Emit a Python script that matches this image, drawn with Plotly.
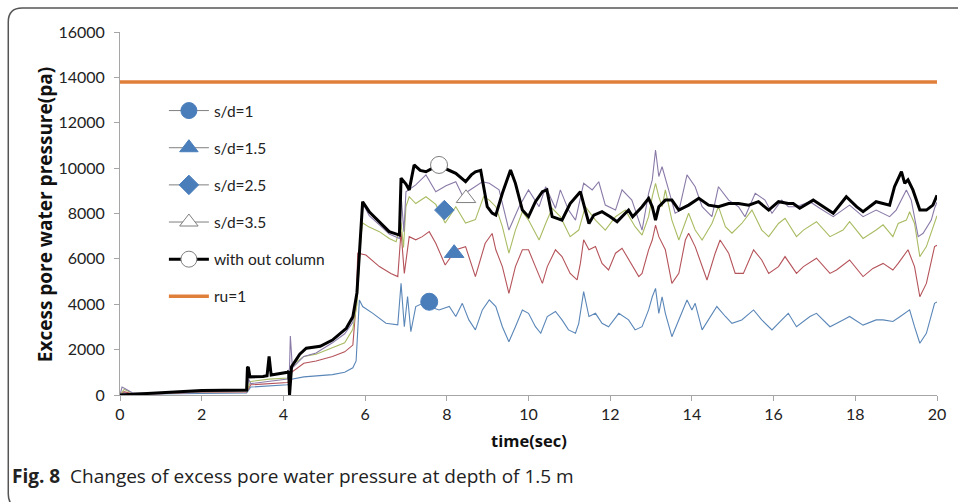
import plotly.graph_objects as go

# ---------------- data ----------------
series_names = ["s/d=1", "s/d=1.5", "s/d=2.5", "s/d=3.5", "with out column"]

t_sd1 = [0, 0.1, 0.3, 1, 2, 3.1, 3.2, 3.65, 4.1, 4.15, 4.2, 4.5, 4.8, 5.2, 5.5, 5.7, 5.78, 5.86, 5.94,
         6.19, 6.51, 6.8, 6.88, 6.96, 7.04, 7.12, 7.24, 7.41, 7.57, 7.81, 8.06, 8.22, 8.38, 8.54, 8.7,
         8.87, 9.04, 9.2, 9.36, 9.52, 9.68, 9.85, 10.0, 10.17, 10.3, 10.46, 10.66, 10.82, 10.98, 11.15,
         11.23, 11.35, 11.48, 11.64, 11.8, 11.96, 12.21, 12.45, 12.61, 12.78, 12.94, 13.03, 13.11, 13.19,
         13.27, 13.35, 13.51, 13.68, 13.88, 14.0, 14.08, 14.25, 14.41, 14.61, 14.82, 14.98, 15.22, 15.51,
         15.71, 15.96, 16.2, 16.36, 16.56, 16.89, 17.05, 17.38, 17.7, 17.86, 18.19, 18.51, 18.68, 18.92,
         19.1, 19.33, 19.45, 19.58, 19.74, 19.94, 20]
p_sd1 = [0, 100, 30, 40, 80, 90, 350, 400, 450, 500, 700, 800, 850, 900, 1000, 1200, 1500, 4190, 3900,
         3600, 3160, 3090, 4920, 3010, 4340, 2790, 3900, 4040, 3900, 3750, 3900, 3460, 4040, 3310, 2870,
         3750, 4190, 3900, 3010, 2350, 3010, 3750, 3600, 3010, 2720, 3460, 3680, 3310, 2870, 2720,
         3160, 4560, 3460, 3600, 3160, 3010, 3600, 3310, 2870, 3010, 3750, 4330, 4700, 3600,
         4330, 3600, 2570, 3310, 4190, 3750, 4040, 2870, 3310, 3900, 3460, 3160, 3310, 3750,
         3310, 2870, 3310, 3600, 3010, 3460, 3600, 3010, 3310, 3460, 3080, 3310, 3310, 3240,
         3460, 3750, 3010, 2280, 2720, 4040, 4100]

t_sd15 = [0, 0.1, 0.3, 1, 2, 3.1, 3.2, 3.65, 4.1, 4.15, 4.2, 4.5, 4.8, 5.2, 5.5, 5.7, 5.78, 5.82, 6.02,
          6.35, 6.63, 6.8, 6.88, 6.96, 7.08, 7.24, 7.4, 7.57, 7.73, 7.96, 8.22, 8.46, 8.7, 8.94, 9.11, 9.2,
          9.36, 9.52, 9.68, 9.85, 10.0, 10.17, 10.34, 10.46, 10.66, 10.82, 11.02, 11.19, 11.27, 11.35,
          11.48, 11.64, 11.8, 11.96, 12.13, 12.29, 12.5, 12.7, 12.78, 12.94, 13.03, 13.11, 13.19, 13.35,
          13.51, 13.68, 13.84, 13.92, 14.08, 14.25, 14.37, 14.57, 14.69, 14.9, 15.06, 15.26, 15.51, 15.71,
          15.88, 16.12, 16.28, 16.56, 16.73, 17.05, 17.38, 17.54, 17.86, 18.19, 18.43, 18.68, 18.92, 19.05,
          19.29, 19.45, 19.58, 19.74, 19.94, 20]
p_sd15 = [0, 150, 50, 60, 120, 130, 450, 500, 550, 600, 1000, 1400, 1500, 1700, 1900, 2200, 4000, 6250, 6170,
          5660, 5360, 5220, 7200, 5360, 6980, 6840, 6980, 7200, 6690, 5730, 6400, 6540, 5220, 6690, 7120, 6400,
          5660, 4480, 5660, 6400, 6400, 5660, 4920, 5660, 6400, 6100, 5360, 5070, 5800, 6840,
          6400, 6540, 5800, 5510, 6250, 6470, 5800, 5220, 5360, 6400, 6830, 7490, 6980, 6400,
          4920, 5360, 6830, 7130, 6540, 5660, 5070, 6250, 6830, 6250, 5360, 5360, 6400, 5950,
          5360, 5660, 6100, 5360, 5660, 6030, 5360, 5510, 5950, 5220, 5580, 5800, 5510, 5800,
          6400, 5660, 4330, 4920, 6540, 6600]

t_sd25 = [0, 0.1, 0.3, 1, 2, 3.1, 3.2, 3.65, 4.1, 4.15, 4.2, 4.5, 4.8, 5.2, 5.5, 5.7, 5.8, 5.9, 5.94,
          6.1, 6.35, 6.59, 6.76, 6.88, 6.94, 7.0, 7.08, 7.24, 7.49, 7.73, 7.96, 8.22, 8.46, 8.7, 8.9, 9.04,
          9.2, 9.36, 9.52, 9.68, 9.85, 10.0, 10.26, 10.42, 10.58, 10.78, 11.02, 11.23, 11.39, 11.64, 11.88,
          12.13, 12.37, 12.61, 12.78, 12.94, 13.03, 13.11, 13.19, 13.27, 13.35, 13.51, 13.68, 13.92, 14.08,
          14.25, 14.49, 14.65, 14.82, 14.98, 15.22, 15.47, 15.71, 15.88, 16.12, 16.28, 16.56, 16.73, 17.05,
          17.38, 17.7, 17.86, 18.19, 18.51, 18.68, 18.92, 19.05, 19.25, 19.33, 19.45, 19.58, 19.74, 19.94, 20]
p_sd25 = [0, 250, 80, 80, 150, 160, 600, 700, 750, 800, 1300, 1700, 1800, 2100, 2300, 2900, 4000, 7000, 7580,
          7400, 7200, 6900, 6760, 7600, 6500, 8300, 8740, 8440, 8740, 8400, 7580, 8300, 7580, 7730, 8740, 8590,
          8300, 7420, 6250, 7270, 8080, 7710, 6830, 7560, 8230, 7860, 6980, 7270, 8300, 7710, 7270,
          7860, 8150, 7420, 7050, 7860, 8740, 9330, 8740, 8300, 9040, 7710, 6830, 8010, 7270,
          6830, 7560, 8300, 7420, 7130, 7560, 8150, 7270, 6980, 7560, 7790, 6980, 7270, 7640,
          6980, 7270, 7640, 6900, 7270, 7500, 6980, 7560, 7710, 8080, 7560, 6100, 6540, 7560, 7900]

t_sd35 = [0, 0.05, 0.15, 0.3, 1, 2, 3.1, 3.15, 3.2, 3.65, 4.1, 4.15, 4.17, 4.22, 4.5, 4.8, 5.2, 5.5, 5.7,
          5.8, 5.9, 5.96, 6.1, 6.35, 6.59, 6.84, 6.88, 6.95, 7.0, 7.24, 7.49, 7.73, 7.98, 8.22, 8.38, 8.54,
          8.87, 9.04, 9.28, 9.52, 9.77, 10.0, 10.26, 10.42, 10.66, 10.78, 10.98, 11.15, 11.35, 11.56, 11.72,
          11.88, 12.13, 12.29, 12.53, 12.78, 12.94, 13.03, 13.11, 13.19, 13.27, 13.43, 13.59, 13.68, 13.88,
          14.08, 14.25, 14.49, 14.65, 14.9, 15.14, 15.3, 15.55, 15.79, 15.96, 16.2, 16.36, 16.56, 16.89,
          17.13, 17.46, 17.86, 18.19, 18.51, 18.84, 19.0, 19.25, 19.37, 19.54, 19.66, 19.86, 19.94, 20]
p_sd35 = [0, 350, 250, 100, 80, 150, 180, 700, 500, 600, 700, 1200, 2600, 1200, 1700, 1850, 2300, 2700, 3200,
          4500, 7500, 8400, 7900, 7500, 7100, 6900, 8800, 7200, 8960, 9260, 9700, 8960, 9220, 9400, 8810, 9000,
          9400, 9330, 9040, 7270, 8300, 9040, 8300, 9180, 8230, 9040, 8150, 7710, 9330, 9040, 9400,
          8370, 8150, 9040, 8590, 7270, 8890, 9480, 10800, 9630, 10060, 9040, 8010, 8100, 9700,
          9180, 8300, 7860, 9180, 8590, 8300, 7860, 8890, 8590, 8010, 8590, 8300, 8300, 8520,
          8230, 7860, 8370, 7860, 8150, 7860, 8150, 9040, 8590, 6980, 7130, 7710, 8230, 8500]

t_noc = [0, 0.3, 1, 2, 3.1, 3.12, 3.14, 3.18, 3.5, 3.6, 3.65, 3.7, 4.1, 4.13, 4.15, 4.18, 4.2, 4.4, 4.56,
         4.9, 5.2, 5.54, 5.7, 5.8, 5.86, 5.94, 6.1, 6.35, 6.59, 6.84, 6.88, 7.0, 7.08, 7.2, 7.35, 7.49,
         7.65, 7.81, 8.0, 8.22, 8.46, 8.6, 8.7, 8.83, 8.99, 9.11, 9.2, 9.36, 9.56, 9.68, 9.85, 10.0, 10.17,
         10.34, 10.45, 10.58, 10.82, 11.02, 11.19, 11.27, 11.39, 11.48, 11.6, 11.8, 12.0, 12.17, 12.37,
         12.45, 12.55, 12.78, 12.94, 13.03, 13.11, 13.19, 13.35, 13.51, 13.68, 13.92, 14.17, 14.41, 14.65,
         14.9, 15.14, 15.39, 15.63, 15.88, 16.12, 16.36, 16.48, 16.64, 16.97, 17.22, 17.46, 17.78, 18.03,
         18.19, 18.51, 18.84, 18.96, 19.13, 19.21, 19.29, 19.41, 19.58, 19.74, 19.9, 19.98, 20]
p_noc = [0, 30, 100, 200, 220, 1200, 1230, 800, 820, 850, 1700, 880, 1000, 1050, 0, 1100, 1250, 1800, 2060,
         2150, 2420, 2940, 3450, 4500, 6400, 8520, 8080, 7640, 7200, 7050, 9560, 9300, 9040, 10140, 9900, 9840,
         10000, 10040, 9950, 9770, 9400, 9700, 9840, 9900, 8300, 8020, 7930, 8890, 9920, 9330, 8150, 7860, 8520,
         8960, 9040, 7860, 7710, 8440, 8810, 8960, 8150, 7560, 7930, 8080, 7860, 7640, 8010,
         8150, 7860, 8300, 8670, 8300, 7710, 8300, 8590, 8590, 8150, 8370, 8670, 8370, 8300,
         8440, 8440, 8370, 8520, 8150, 8520, 8440, 8440, 8230, 8590, 8300, 8010, 8740, 8300,
         8080, 8520, 8370, 9180, 9850, 9330, 9480, 9040, 8150, 8150, 8370, 8740, 8800]

# one marker per series (Excel-style data marker)
marker_t = [7.57, 8.18, 7.94, 8.47, 7.81]
marker_p = [4110, 6250, 8150, 8670, 10140]

ru_t = [0, 20]
ru_p = [13800, 13800]

x_ticks = list(range(0, 21, 2))
y_ticks = list(range(0, 16001, 2000))

# ---------------- styles ----------------
line_colors = ["#5a86b8", "#b5535a", "#a9bc63", "#8a7aa8", "#000000"]
line_widths = [1.1, 1.1, 1.1, 1.1, 3]
marker_symbols = ["circle", "triangle-up", "diamond", "triangle-up", "circle"]
marker_fill = ["#4a7ebb", "#4a7ebb", "#4a7ebb", "#ffffff", "#ffffff"]
marker_edge = ["#4a7ebb", "#4a7ebb", "#4a7ebb", "#7f7f7f", "#7f7f7f"]
marker_sizes = [17, 17, 15, 17, 17]

FONT = "Lato, 'Open Sans', sans-serif"
TFONT = "'Open Sans', Lato, sans-serif"

fig = go.Figure()

all_t = [t_sd1, t_sd15, t_sd25, t_sd35, t_noc]
all_p = [p_sd1, p_sd15, p_sd25, p_sd35, p_noc]

for i in range(5):
    fig.add_trace(go.Scatter(
        x=all_t[i], y=all_p[i], mode="lines",
        line=dict(color=line_colors[i], width=line_widths[i]),
        showlegend=False, legendgroup=series_names[i], hoverinfo="skip"))

fig.add_trace(go.Scatter(
    x=ru_t, y=ru_p, mode="lines", name="ru=1",
    line=dict(color="#e07f3a", width=3.5), legendgroup="ru", legendrank=6))

for i in range(5):
    fig.add_trace(go.Scatter(
        x=[marker_t[i]], y=[marker_p[i]], mode="lines+markers", name=series_names[i],
        line=dict(color=("#7f7f7f" if i < 4 else "#000000"), width=(1 if i < 4 else 3)),
        marker=dict(symbol=marker_symbols[i], size=marker_sizes[i], color=marker_fill[i],
                    line=dict(color=marker_edge[i], width=1)),
        legendgroup=series_names[i], legendrank=i + 1))

# plot area in pixels: x 120..939, y 32..395
L, R, T, B = 120, 19, 32, 107
W, H = 958, 502
pw, ph = W - L - R, H - T - B


def px(xp):
    return (xp - L) / pw


def py(yp):
    return (H - B - yp) / ph


# rounded frame around the figure
fx0, fx1, fy0, fy1 = px(8), px(970), py(8), py(508)
rx, ry = 14 / pw, 14 / ph
frame_path = (f"M {fx1},{fy0} L {fx0 + rx},{fy0} Q {fx0},{fy0} {fx0},{fy0 - ry} "
              f"L {fx0},{fy1 + ry} Q {fx0},{fy1} {fx0 + rx},{fy1} L {fx1},{fy1}")

fig.update_layout(
    width=W, height=H,
    margin=dict(l=L, r=R, t=T, b=B),
    paper_bgcolor="white", plot_bgcolor="white",
    font=dict(family=FONT, size=15, color="#222222"),
    showlegend=True,
    legend=dict(x=px(164), y=py(94), xanchor="left", yanchor="top",
                bgcolor="rgba(0,0,0,0)", traceorder="grouped", tracegroupgap=14,
                font=dict(family=FONT, size=15.5, color="#222222"), itemwidth=40),
    xaxis=dict(range=[0, 20], tickvals=x_ticks, ticks="outside", ticklen=5, tickcolor="#a6a6a6",
               showline=True, linecolor="#a6a6a6", linewidth=1, showgrid=False, zeroline=False,
               tickformat="d", tickfont=dict(family=FONT, size=16, color="#222222")),
    yaxis=dict(range=[0, 16000], tickvals=y_ticks, ticks="outside", ticklen=5, tickcolor="#a6a6a6",
               showline=True, linecolor="#a6a6a6", linewidth=1, showgrid=False, zeroline=False,
               ticklabelstandoff=6,
               tickformat="d", tickfont=dict(family=FONT, size=16, color="#222222")),
    shapes=[dict(type="path", xref="paper", yref="paper", path=frame_path,
                 line=dict(color="#555555", width=1.5))],
    annotations=[
        dict(text="<b>time(sec)</b>", xref="paper", yref="paper", x=px(530), y=py(440),
             showarrow=False, xanchor="center", yanchor="middle",
             font=dict(family=TFONT, size=16.5, color="#111111")),
        dict(text="<b>Excess pore water pressure(pa)</b>", xref="paper", yref="paper",
             x=px(45), y=py(215), showarrow=False, textangle=-90, xanchor="center", yanchor="middle",
             font=dict(family=TFONT, size=19, color="#111111")),
        dict(text="<b>Fig. 8</b>  Changes of excess pore water pressure at depth of 1.5 m",
             xref="paper", yref="paper", x=px(10), y=py(476), showarrow=False,
             xanchor="left", yanchor="middle",
             font=dict(family=TFONT, size=19, color="#222222")),
    ],
)

fig.write_html("out.html")
